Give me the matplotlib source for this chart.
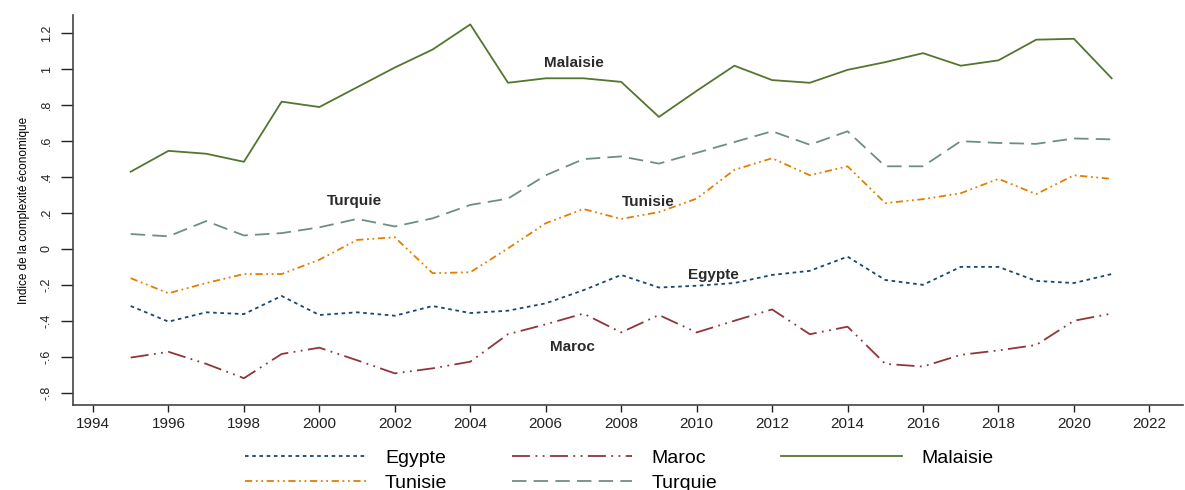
import matplotlib
matplotlib.use("Agg")
import matplotlib.pyplot as plt
from matplotlib import font_manager

plt.rcParams['font.family'] = ['Liberation Sans', 'DejaVu Sans']

years = list(range(1995, 2022))

egypte = [-0.318, -0.405, -0.353, -0.363, -0.262, -0.368, -0.353, -0.372, -0.318, -0.357,
          -0.344, -0.303, -0.23, -0.145, -0.215, -0.205, -0.19, -0.145, -0.122, -0.043,
          -0.173, -0.2, -0.1, -0.1, -0.178, -0.19, -0.14]
maroc = [-0.605, -0.573, -0.64, -0.72, -0.585, -0.55, -0.62, -0.693, -0.665, -0.628,
         -0.475, -0.42, -0.36, -0.465, -0.368, -0.465, -0.4, -0.337, -0.475, -0.433,
         -0.64, -0.655, -0.59, -0.565, -0.535, -0.4, -0.36]
malaisie = [0.43, 0.546, 0.53, 0.485, 0.82, 0.79, 0.9, 1.01, 1.11, 1.25,
            0.925, 0.95, 0.95, 0.93, 0.735, 0.88, 1.02, 0.94, 0.925, 0.997,
            1.04, 1.09, 1.02, 1.05, 1.165, 1.17, 0.95]
tunisie = [-0.163, -0.247, -0.19, -0.14, -0.14, -0.06, 0.05, 0.065, -0.135, -0.13,
           0.003, 0.143, 0.222, 0.167, 0.205, 0.28, 0.44, 0.505, 0.41, 0.46,
           0.255, 0.277, 0.31, 0.39, 0.305, 0.41, 0.39]
turquie = [0.083, 0.07, 0.155, 0.075, 0.088, 0.12, 0.167, 0.125, 0.17, 0.245,
           0.28, 0.41, 0.5, 0.515, 0.475, 0.535, 0.595, 0.655, 0.58, 0.655,
           0.46, 0.46, 0.6, 0.59, 0.585, 0.615, 0.61]

xticks = list(range(1994, 2023, 2))
yticks = [-0.8, -0.6, -0.4, -0.2, 0, 0.2, 0.4, 0.6, 0.8, 1, 1.2]
ytick_labels = ['-.8', '-.6', '-.4', '-.2', '0', '.2', '.4', '.6', '.8', '1', '1.2']

# in-plot labels: (text, year, value)
annotations = [('Malaisie', 2006.75, 1.036), ('Turquie', 2000.93, 0.267),
               ('Tunisie', 2008.73, 0.262), ('Egypte', 2010.45, -0.145),
               ('Maroc', 2006.72, -0.546)]

# narrow font for the rotated y texts if we have it
names = {f.name for f in font_manager.fontManager.ttflist}
if 'Liberation Sans Narrow' in names:
    yfont, ylab_size, ytick_size = 'Liberation Sans Narrow', 10.5, 10.5
else:
    yfont, ylab_size, ytick_size = 'Liberation Sans', 8.5, 9

fig = plt.figure(figsize=(11.85, 4.9), dpi=100)
ax = fig.add_axes([0.0616, 0.1735, 0.937, 0.795])

l_eg, = ax.plot(years, egypte, color='#1a476f', lw=1.3, ls=(0, (2, 2)), label='Egypte')
l_ma, = ax.plot(years, maroc, color='#90353b', lw=1.3, ls=(0, (10, 3, 1, 3, 1, 3)), label='Maroc')
l_ml, = ax.plot(years, malaisie, color='#55752f', lw=1.3, ls='-', label='Malaisie')
l_tu, = ax.plot(years, tunisie, color='#e37e00', lw=1.3, ls=(0, (4, 2, 1, 2, 1, 2)), label='Tunisie')
l_tq, = ax.plot(years, turquie, color='#6e8e84', lw=1.3, ls=(0, (8, 4)), label='Turquie')

for txt, x, y in annotations:
    ax.text(x, y, txt, ha='center', va='center', fontsize=11, fontweight='bold', color='#2a2a2a')

ax.set_xlim(1993.47, 2022.9)
ax.set_ylim(-0.869, 1.30)
ax.set_xticks(xticks)
ax.set_yticks(yticks)
ax.set_yticklabels(ytick_labels, rotation=90, va='center', family=[yfont, 'DejaVu Sans'],
                   fontsize=ytick_size)
ax.tick_params(axis='x', direction='out', length=5, width=1, labelsize=11, colors='#222222', pad=4)
ax.tick_params(axis='y', direction='out', length=8.5, width=1, colors='#222222', pad=6)

for s in ['top', 'right']:
    ax.spines[s].set_visible(False)
for s in ['left', 'bottom']:
    ax.spines[s].set_color('#444444')
    ax.spines[s].set_linewidth(1.2)

ax.set_ylabel('Indice de la complexité économique', fontsize=ylab_size,
              family=[yfont, 'DejaVu Sans'], labelpad=8)

# legend columns filled top to bottom
handles = [l_eg, l_tu, l_ma, l_tq, l_ml]
fig.legend(handles, [h.get_label() for h in handles], ncol=3, frameon=False,
           loc='upper left', bbox_to_anchor=(245 / 1185, 1 - 449 / 490), borderaxespad=0,
           borderpad=0, fontsize=14, handlelength=6.2, handletextpad=1.0,
           columnspacing=3.3, labelspacing=0.4)

fig.savefig('out.png', dpi=100)
